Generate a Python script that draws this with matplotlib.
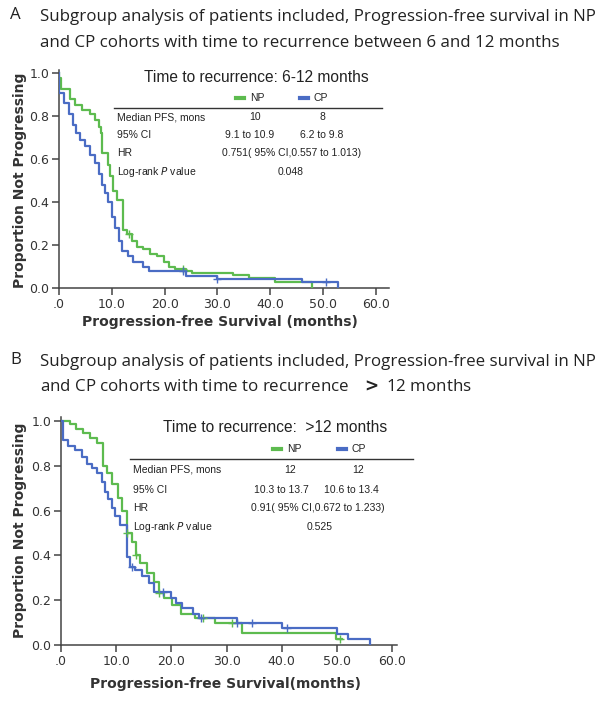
import numpy as np
import matplotlib
matplotlib.use('Agg')
import matplotlib.pyplot as plt

W, H = 600, 701

# Panel A: time to recurrence 6-12 months
a_np_t = [0, 0.3, 2.1, 3.0, 4.3, 5.9, 6.8, 7.5, 7.9, 8.1, 9.2, 9.7, 10.3, 11.0, 12.2, 12.8,
          13.8, 14.7, 16.0, 17.3, 18.5, 19.9, 20.8, 22.0, 24.0, 25.2, 33.0, 36.0, 41.0, 48.0]
a_np_s = [0.975, 0.925, 0.88, 0.85, 0.83, 0.81, 0.78, 0.75, 0.72, 0.63, 0.57, 0.52, 0.45, 0.41, 0.27, 0.25,
          0.22, 0.19, 0.18, 0.16, 0.15, 0.12, 0.10, 0.09, 0.08, 0.07, 0.06, 0.045, 0.03, 0.0]
a_np_cens = [13.2, 23.4]
a_cp_t = [0, 0.9, 1.8, 2.7, 3.3, 4.0, 5.0, 5.8, 6.8, 7.6, 8.1, 8.7, 9.3, 10.0, 10.6, 11.3,
          12.0, 13.0, 14.0, 16.0, 17.0, 24.0, 30.0, 46.0, 52.8]
a_cp_s = [0.905, 0.86, 0.81, 0.76, 0.72, 0.69, 0.66, 0.62, 0.58, 0.53, 0.48, 0.44, 0.40, 0.33, 0.28, 0.22,
          0.17, 0.15, 0.12, 0.10, 0.08, 0.057, 0.043, 0.03, 0.0]
a_cp_cens = [23.5, 30.0, 50.5]

# Panel B: time to recurrence > 12 months
b_np_t = [0, 1.6, 2.8, 4.0, 5.3, 6.5, 7.7, 8.4, 9.2, 10.4, 11.0, 11.9, 12.8, 13.6, 14.4, 15.6,
          16.8, 17.7, 18.6, 20.2, 21.7, 24.2, 27.9, 32.8, 49.8, 51.0]
b_np_s = [1.0, 0.985, 0.965, 0.945, 0.925, 0.90, 0.80, 0.77, 0.72, 0.655, 0.60, 0.50, 0.46, 0.40, 0.365, 0.32,
          0.28, 0.23, 0.21, 0.18, 0.14, 0.12, 0.097, 0.052, 0.026, 0.026]
b_np_cens = [12.0, 13.6, 17.7, 25.7, 31.0, 50.5]
b_cp_t = [0, 0.3, 1.3, 2.5, 3.8, 4.7, 5.6, 6.5, 7.4, 8.0, 8.6, 9.2, 9.8, 10.7, 11.9, 12.5,
          13.5, 14.7, 15.9, 16.8, 19.9, 20.8, 22.0, 23.9, 25.1, 31.9, 40.0, 50.1, 52.0, 56.0]
b_cp_s = [1.0, 0.915, 0.89, 0.87, 0.84, 0.81, 0.79, 0.77, 0.73, 0.685, 0.65, 0.61, 0.575, 0.535, 0.395, 0.35,
          0.335, 0.31, 0.275, 0.238, 0.21, 0.186, 0.164, 0.14, 0.12, 0.097, 0.075, 0.05, 0.025, 0.0]
b_cp_cens = [12.8, 18.5, 25.4, 31.9, 34.7, 40.9]

x_ticks = [0, 10, 20, 30, 40, 50, 60]
x_labels = ['.0', '10.0', '20.0', '30.0', '40.0', '50.0', '60.0']
y_ticks = [0.0, 0.2, 0.4, 0.6, 0.8, 1.0]

GREEN = '#5dbb4f'
BLUE = '#4a6cc4'
TXT = '#333333'


def fx(x):
    return x / W


def fy(y):
    return 1 - y / H


def km(ax, t, s, cens, color):
    t = np.array(t)
    s = np.array(s)
    tt = np.concatenate([[0], t])
    ss = np.concatenate([[1.0], s])
    ax.step(tt, ss, where='post', color=color, lw=1.6, zorder=3)
    idx = np.searchsorted(tt, cens, side='right') - 1
    ax.plot(cens, ss[idx], '+', color=color, ms=6, mew=1.0, zorder=4)


def setup(ax, xmax, ymax):
    ax.set_xlim(0, xmax)
    ax.set_ylim(0, ymax)
    for sp in ['top', 'right']:
        ax.spines[sp].set_visible(False)
    for sp in ['left', 'bottom']:
        ax.spines[sp].set_color('#444444')
        ax.spines[sp].set_linewidth(1.1)
    ax.set_xticks(x_ticks)
    ax.set_xticklabels(x_labels)
    ax.set_yticks(y_ticks)
    ax.set_yticklabels(['%.1f' % v for v in y_ticks])
    ax.tick_params(direction='out', length=5, width=1.1, color='#444444',
                   labelsize=9, labelcolor=TXT, pad=2)


fig = plt.figure(figsize=(W / 100, H / 100), dpi=100)

title_font = dict(family='Open Sans', fontsize=12.2, color='#222222')

# ---- Panel A ----
fig.text(fx(10), fy(15), 'A', va='center', **title_font)
fig.text(fx(40), fy(17), 'Subgroup analysis of patients included, Progression-free survival in NP',
         va='center', **title_font)
fig.text(fx(40), fy(43), 'and CP cohorts with time to recurrence between 6 and 12 months',
         va='center', **title_font)

axA = fig.add_axes([fx(59), fy(288), (389 - 59) / W, (288 - 70) / H])
setup(axA, 62.5, 1.014)
km(axA, a_np_t, a_np_s, a_np_cens, GREEN)
km(axA, a_cp_t, a_cp_s, a_cp_cens, BLUE)
fig.text(fx(20), fy(180), 'Proportion Not Progressing', rotation=90, ha='center', va='center',
         fontsize=10, fontweight='bold', color=TXT)
fig.text(fx(220), fy(322), 'Progression-free Survival (months)', ha='center', va='center',
         fontsize=10, fontweight='bold', color=TXT)


def inset(ttl, ty, ly, line_x, rows, leg_x):
    tf = dict(family='Liberation Sans', color='#222222')
    fig.text(fx(ttl[1]), fy(ty), ttl[0], ha='center', va='center', fontsize=11.2, **tf)
    for x, lab, c in zip(leg_x, ['NP', 'CP'], [GREEN, BLUE]):
        fig.lines.append(plt.Line2D([fx(x - 7), fx(x + 1)], [fy(ly), fy(ly)], color=c, lw=3,
                                    transform=fig.transFigure))
        fig.text(fx(x + 7), fy(ly), lab, ha='left', va='center', fontsize=7.5, **tf)
    fig.lines.append(plt.Line2D([fx(line_x[0]), fx(line_x[1])], [fy(ly + 10), fy(ly + 10)],
                                color='#333333', lw=1.0, transform=fig.transFigure))
    for (y, label, vals) in rows:
        fig.text(fx(line_x[0] + 3), fy(y), label, ha='left', va='center', fontsize=7.5, **tf)
        for (x, v, ha) in vals:
            fig.text(fx(x), fy(y), v, ha=ha, va='center', fontsize=7.5, **tf)


inset(('Time to recurrence: 6-12 months', 256), 78, 98, (114, 382),
      [(117, 'Median PFS, mons', [(255, '10', 'center'), (322, '8', 'center')]),
       (135, '95% CI', [(250, '9.1 to 10.9', 'center'), (322, '6.2 to 9.8', 'center')]),
       (153, 'HR', [(222, '0.751( 95% CI,0.557 to 1.013)', 'left')]),
       (172, '', [(291, '0.048', 'center')])],
      [243, 307])
fig.text(fx(117), fy(172), 'Log-rank $\\it{P}$ value', ha='left', va='center', fontsize=7.5,
         family='Liberation Sans', color='#222222')

# ---- Panel B ----
fig.text(fx(10), fy(360), 'B', va='center', **title_font)
fig.text(fx(40), fy(362), 'Subgroup analysis of patients included, Progression-free survival in NP',
         va='center', **title_font)
fig.text(fx(40), fy(387), 'and CP cohorts with time to recurrence   $\\mathbf{>}$ 12 months',
         va='center', **title_font)

axB = fig.add_axes([fx(61), fy(645), (397 - 61) / W, (645 - 417) / H])
setup(axB, 60.9, 1.018)
km(axB, b_np_t, b_np_s, b_np_cens, GREEN)
km(axB, b_cp_t, b_cp_s, b_cp_cens, BLUE)
fig.text(fx(20), fy(530), 'Proportion Not Progressing', rotation=90, ha='center', va='center',
         fontsize=10, fontweight='bold', color=TXT)
fig.text(fx(226), fy(684), 'Progression-free Survival(months)', ha='center', va='center',
         fontsize=10, fontweight='bold', color=TXT)

inset(('Time to recurrence:  >12 months', 275), 428, 449, (130, 413),
      [(470, 'Median PFS, mons', [(290, '12', 'center'), (358, '12', 'center')]),
       (490, '95% CI', [(281, '10.3 to 13.7', 'center'), (351, '10.6 to 13.4', 'center')]),
       (508, 'HR', [(251, '0.91( 95% CI,0.672 to 1.233)', 'left')]),
       (527, '', [(320, '0.525', 'center')])],
      [280, 345])
fig.text(fx(133), fy(527), 'Log-rank $\\it{P}$ value', ha='left', va='center', fontsize=7.5,
         family='Liberation Sans', color='#222222')

plt.savefig('out.png', dpi=100)
